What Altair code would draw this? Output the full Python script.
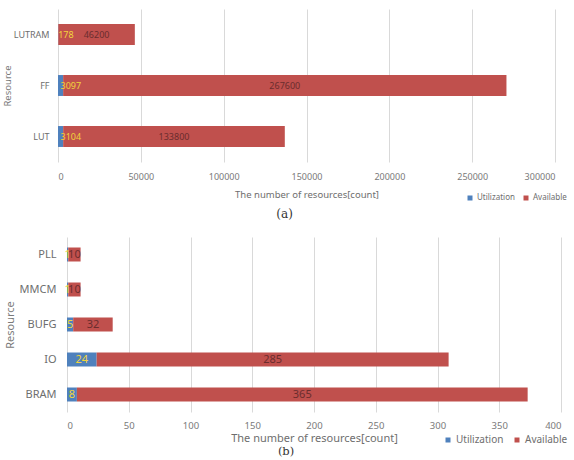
import altair as alt
import pandas as pd

# ---- data (a) ----
res_a = ["LUTRAM", "FF", "LUT"]
util_a = [178, 3097, 3104]
avail_a = [46200, 267600, 133800]
ticks_a = [0, 50000, 100000, 150000, 200000, 250000, 300000]

# ---- data (b) ----
res_b = ["PLL", "MMCM", "BUFG", "IO", "BRAM"]
util_b = [1, 1, 5, 24, 8]
avail_b = [10, 10, 32, 285, 365]
ticks_b = [0, 50, 100, 150, 200, 250, 300, 350, 400]

series = ["Utilization", "Available"]
colors = ["#4f81bd", "#c0504d"]
FONT = "Noto Sans"


def make_df(res, util, avail):
    rows = []
    for r, u, a in zip(res, util, avail):
        rows.append({"resource": r, "type": series[0], "value": u, "order": 0})
        rows.append({"resource": r, "type": series[1], "value": a, "order": 1})
    return pd.DataFrame(rows)


def panel(res, util, avail, ticks, width, xrange, height, pinner, fs_tick, fs_ytick,
          fs_title, fs_leg, fs_lab, util_align, leg_x, leg_y, caption,
          lab_pad, title_pad, xlab_pad, xtitle_pad, cap_off, col_pad, cap_fs):
    df = make_df(res, util, avail)
    base = alt.Chart(df).transform_stack(
        stack="value", groupby=["resource"], as_=["v0", "v1"],
        sort=[alt.SortField("order", order="ascending")]
    ).transform_calculate(mid="(datum.v0 + datum.v1) / 2")

    yenc = alt.Y(
        "resource:N", sort=res,
        scale=alt.Scale(paddingInner=pinner, paddingOuter=pinner / 2),
        axis=alt.Axis(title="Resource", domain=False, ticks=False, grid=False,
                      labelFont=FONT, labelFontSize=fs_ytick, labelColor="#6e6e6e",
                      labelPadding=lab_pad, titleFont=FONT, titleFontSize=fs_title,
                      titleFontWeight="normal", titleColor="#7a7a7a",
                      titlePadding=title_pad),
    )
    xscale = alt.Scale(domain=[ticks[0], ticks[-1]], nice=False, range=xrange)
    bars = base.mark_bar().encode(
        y=yenc,
        x=alt.X("v0:Q", scale=xscale,
                axis=alt.Axis(title="The number of resources[count]", values=ticks,
                              format="d", domain=False, ticks=False,
                              gridColor="#d9d9d9", labelFont=FONT,
                              labelFontSize=fs_tick, labelColor="#7a7a7a",
                              labelPadding=xlab_pad, titleFont=FONT,
                              titleFontSize=fs_title, titleFontWeight="normal",
                              titleColor="#6e6e6e", titlePadding=xtitle_pad)),
        x2="v1:Q",
        color=alt.Color("type:N", scale=alt.Scale(domain=series, range=colors),
                        legend=alt.Legend(orient="none", legendX=leg_x, legendY=leg_y,
                                          direction="horizontal", title=None,
                                          symbolType="square", symbolSize=25,
                                          symbolStrokeWidth=0, labelFont=FONT,
                                          labelFontSize=fs_leg, labelColor="#6e6e6e",
                                          columnPadding=col_pad, labelOffset=3,
                                          padding=0)),
    )
    t_util = base.transform_filter("datum.type == 'Utilization'").mark_text(
        align=util_align, baseline="middle", font=FONT, fontSize=fs_lab,
        color="#f2d43c"
    ).encode(y=alt.Y("resource:N", sort=res), x="mid:Q",
             text=alt.Text("value:Q", format="d"))
    t_av = base.transform_filter("datum.type == 'Available'").mark_text(
        align="center", baseline="middle", font=FONT, fontSize=fs_lab,
        color="#6b2d2d"
    ).encode(y=alt.Y("resource:N", sort=res), x="mid:Q",
             text=alt.Text("value:Q", format="d"))
    return alt.layer(bars, t_util, t_av).properties(
        width=width, height=height,
        title=alt.TitleParams(caption, orient="bottom", frame="bounds",
                              anchor="middle", font="DejaVu Serif", fontSize=cap_fs,
                              fontWeight="normal", color="#333333",
                              offset=cap_off),
    )


a = panel(res_a, util_a, avail_a, ticks_a, 497, [0, 497], 153, 0.59, 9, 9, 9.5, 8, 9,
          "left", 408, 185, "(a)", 9, 1, 10, 8, 7, 7, 12)
b = panel(res_b, util_b, avail_b, ticks_b, 503, [9, 503], 175, 0.6, 9.5, 11, 11, 10, 11,
          "center", 385, 198, "(b)", 2, 4, 8, 3, 1, 8, 11.5)

chart = alt.vconcat(a, b, spacing=17).resolve_scale(
    color="independent"
).resolve_legend(color="independent").properties(
    padding={"top": 9, "left": 2, "right": 0, "bottom": 0},
    background="white",
).configure_view(strokeWidth=0)

chart.save("out.html", embed_options={"renderer": "svg", "actions": False})
